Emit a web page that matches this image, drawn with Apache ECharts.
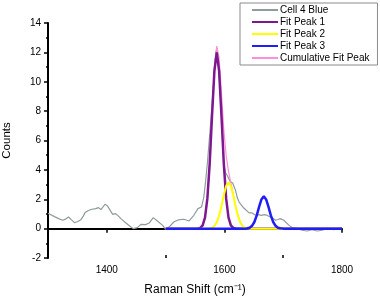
<!DOCTYPE html>
<html><head><meta charset="utf-8">
<script src="https://cdn.jsdelivr.net/npm/echarts@6/dist/echarts.min.js"></script>
<style>html,body{margin:0;padding:0;background:#fff}#c{width:380px;height:299px}</style>
</head><body><div id="c"></div>
<script>
// Measured spectrum "Cell 4 Blue"
const specX = [1300,1312,1318,1325,1330,1335,1340,1345,1350,1356,1360,1363,1368,1373,1381,1386,1390,1393,1397,1401,1404,1410,1415,1420,1424,1432,1441,1445,1452,1458,1466,1472,1479,1486,1495,1500,1507,1514,1522,1531,1540,1548,1555,1561,1565,1568,1571,1574,1577,1580,1582,1585,1587,1589,1591,1594,1597,1599,1602,1605,1610,1614,1619,1622,1625,1633,1642,1647,1653,1658,1663,1668,1673,1678,1683,1687,1691,1695,1701,1710,1715,1724,1732,1741,1749,1758,1766,1775,1786,1797,1800];
const specY = [1.05,0.8,0.68,0.57,0.65,0.79,0.6,0.41,0.47,0.61,0.85,1.09,1.22,1.30,1.36,1.43,1.30,1.45,1.66,1.55,1.36,0.97,1.02,0.85,0.68,0.4,0.11,0.0,0.07,0.29,0.27,0.38,0.75,0.52,0.22,-0.05,0.15,0.45,0.6,0.64,0.52,0.91,1.36,1.47,2.15,3.2,4.43,5.9,7.38,9.0,10.1,11.8,12.3,11.5,10.5,8.5,6.0,4.4,3.8,3.6,3.2,3.1,2.6,2.1,1.81,1.40,1.07,1.07,0.91,0.95,0.9,0.95,0.9,0.79,0.7,0.57,0.62,0.68,0.57,0.22,0.07,0,-0.11,-0.16,-0.07,-0.16,-0.11,0,-0.07,0.04,0.02];

// Fit curves, shared x positions
const fitX = [1500,1520,1540,1550,1555,1559,1563,1567,1571,1575,1579,1583,1587,1591,1595,1599,1603,1607,1611,1615,1619,1623,1627,1631,1635,1639,1643,1647,1651,1655,1659,1663,1667,1671,1675,1679,1683,1687,1691,1695,1700,1720,1750,1800];
const peak1 = [0,0,0,0,0.01,0.05,0.22,0.75,2.04,4.43,7.70,10.74,12.0,10.74,7.70,4.43,2.04,0.75,0.22,0.05,0.01,0,0,0,0,0,0,0,0,0,0,0,0,0,0,0,0,0,0,0,0,0,0,0];
const peak2 = [0,0,0,0,0,0,0,0,0,0.02,0.06,0.18,0.43,0.88,1.53,2.29,2.91,3.15,2.91,2.29,1.53,0.88,0.43,0.18,0.06,0.02,0,0,0,0,0,0,0,0,0,0,0,0,0,0,0,0,0,0];
const peak3 = [0,0,0,0,0,0,0,0,0,0,0,0,0,0,0,0,0,0,0,0,0,0,0,0,0,0.02,0.06,0.19,0.45,0.90,1.48,1.99,2.2,1.99,1.48,0.90,0.45,0.19,0.06,0.02,0,0,0,0];
const cumulative = [0,0,0,0,0.01,0.05,0.22,0.75,2.04,4.45,7.76,10.92,12.43,11.62,9.23,6.72,4.95,3.90,3.13,2.34,1.54,0.88,0.43,0.18,0.06,0.04,0.06,0.19,0.45,0.90,1.48,1.99,2.2,1.99,1.48,0.90,0.45,0.19,0.06,0.02,0,0,0,0];

const xMajor = [1400,1600,1800];
const xMinor = [1500,1700];

const pairs = (xs, ys) => xs.map((x,i)=>[x, ys[i]]);
const font = 'Liberation Sans, Arial, sans-serif';

const chart = echarts.init(document.getElementById('c'), null, {renderer:'canvas'});
chart.setOption({
  animation:false,
  backgroundColor:'#fff',
  grid:{left:48, right:38, top:23, bottom:41, containLabel:false, outerBoundsMode:'none'},
  legend:{
    orient:'vertical', left:240, top:3,
    itemWidth:26, itemHeight:10, itemGap:2,
    padding:[2,8,2,11],
    borderColor:'#8a8a8a', borderWidth:1, backgroundColor:'#fff',
    itemStyle:{opacity:0},
    textStyle:{fontFamily:font, fontSize:10, color:'#000', padding:[0,0,0,-3]},
    data:['Cell 4 Blue','Fit Peak 1','Fit Peak 2','Fit Peak 3','Cumulative Fit Peak']
  },
  xAxis:[{
    type:'value', min:1300, max:1800,
    axisLine:{lineStyle:{color:'#000', width:2}},
    axisTick:{show:true, customValues:xMajor, length:4, lineStyle:{color:'#000', width:1.5}},
    axisLabel:{customValues:xMajor, formatter:v=>String(v), fontFamily:font, fontSize:10, color:'#000', margin:7},
    splitLine:{show:false},
    name:'Raman Shift (cm⁻¹)', nameLocation:'middle', nameGap:26,
    nameTextStyle:{fontFamily:font, fontSize:12, color:'#000'}
  },{
    type:'value', min:1300, max:1800, position:'bottom',
    axisLine:{show:false},
    axisTick:{show:true, customValues:xMinor, inside:true, length:3, lineStyle:{color:'#000', width:1.5}},
    axisLabel:{show:false}, splitLine:{show:false}
  }],
  yAxis:{
    type:'value', min:-2, max:14, interval:2,
    axisLine:{show:true, lineStyle:{color:'#000', width:2}},
    axisTick:{show:true, length:4, lineStyle:{color:'#000', width:1.5}},
    minorTick:{show:true, splitNumber:2, length:2, lineStyle:{color:'#000', width:1.5}},
    axisLabel:{fontFamily:font, fontSize:10, color:'#000', margin:7},
    splitLine:{show:false},
    name:'Counts', nameLocation:'middle', nameGap:35,
    nameTextStyle:{fontFamily:font, fontSize:11.5, color:'#000'}
  },
  series:[
    {name:'Cell 4 Blue', type:'line', symbol:'none', data:pairs(specX, specY), z:1,
     lineStyle:{color:'#8f9c9c', width:1.2}, itemStyle:{color:'#8f9c9c'}},
    {name:'Cumulative Fit Peak', type:'line', symbol:'none', data:pairs(fitX, cumulative), z:2,
     lineStyle:{color:'#ff8fd6', width:1.2}, itemStyle:{color:'#ff8fd6'}},
    {name:'Fit Peak 1', type:'line', symbol:'none', data:pairs(fitX, peak1), z:3,
     lineStyle:{color:'#7d1890', width:2.5}, itemStyle:{color:'#7d1890'}},
    {name:'Fit Peak 2', type:'line', symbol:'none', data:pairs(fitX, peak2), z:4,
     lineStyle:{color:'#ffff00', width:2}, itemStyle:{color:'#ffff00'}},
    {name:'Fit Peak 3', type:'line', symbol:'none', data:pairs(fitX, peak3), z:5,
     lineStyle:{color:'#1e1ef5', width:2.5}, itemStyle:{color:'#1e1ef5'}}
  ]
});
</script></body></html>
